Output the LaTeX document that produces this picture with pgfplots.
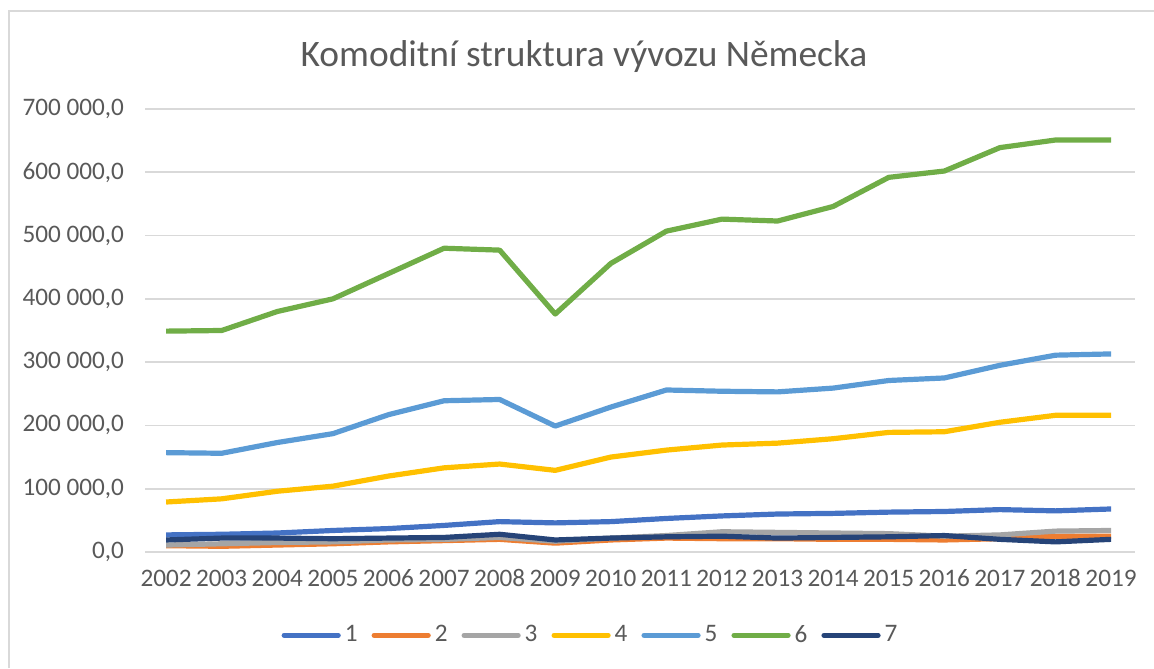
\documentclass[border=0pt]{standalone}
\usepackage{pgfplots}
\pgfplotsset{compat=1.18}
\usepackage{fontspec}
\setmainfont{Carlito}
\definecolor{txt}{HTML}{595959}
\definecolor{grd}{HTML}{D9D9D9}
\definecolor{c1}{HTML}{4472C4}
\definecolor{c2}{HTML}{ED7D31}
\definecolor{c3}{HTML}{A5A5A5}
\definecolor{c4}{HTML}{FFC000}
\definecolor{c5}{HTML}{5B9BD5}
\definecolor{c6}{HTML}{70AD47}
\definecolor{c7}{HTML}{264478}
\begin{document}
\begin{tikzpicture}
\path[use as bounding box] (0,0) rectangle (577pt,334pt);
\draw[grd, line width=1pt] (4.25pt,0) -- (4.25pt,328.5pt) -- (577pt,328.5pt);
\node[txt, font=\fontsize{18.7}{22}\selectfont] at (292pt,305.5pt) {Komoditní struktura vývozu Německa};
\begin{axis}[
  at={(72.5pt,58pt)}, anchor=south west,
  scale only axis, width=495pt, height=221.5pt,
  xmin=2001.62, xmax=2019.43,
  ymin=0, ymax=700000,
  xtick={2002,...,2019},
  ytick={0,100000,...,700000},
  scaled y ticks=false,
  xticklabel style={/pgf/number format/1000 sep={}, text height=8.5pt, text depth=0pt},
  yticklabel style={/pgf/number format/.cd, fixed, fixed zerofill, precision=1, use comma, 1000 sep={\ }},
  /pgf/number format/assume math mode=true,
  ticklabel style={font=\fontsize{12.6}{15}\selectfont, text=txt},
  major tick length=0pt,
  axis line style={draw=none},
  ymajorgrids, grid style={grd, line width=0.8pt},
  yticklabel shift=7pt, xticklabel shift=5pt,
  legend columns=7,
  legend style={at={(0.451,-0.188)}, anchor=center, draw=none, fill=none,
    font=\fontsize{12.6}{15}\selectfont, text=txt,
    /tikz/every even column/.append style={column sep=5pt}},
  legend cell align=left,
  legend image code/.code={\draw[#1, line width=2.6pt, line cap=round] (0pt,0pt) -- (27pt,0pt);},
  every axis plot/.append style={line width=2.6pt, line join=round, mark=none},
]
\draw[grd, line width=0.8pt] (axis cs:2001.62,0) -- (axis cs:2019.43,0);
\addplot[c1] coordinates {(2002,27000)(2003,28000)(2004,30000)(2005,34000)(2006,37000)(2007,42000)(2008,48000)(2009,46000)(2010,48000)(2011,53000)(2012,57000)(2013,60000)(2014,61000)(2015,63000)(2016,64000)(2017,67000)(2018,65000)(2019,68000)};
\addlegendentry{1}
\addplot[c2] coordinates {(2002,10000)(2003,9000)(2004,11000)(2005,13000)(2006,16000)(2007,18000)(2008,20000)(2009,14000)(2010,19000)(2011,22000)(2012,21000)(2013,21000)(2014,20000)(2015,20000)(2016,19000)(2017,21000)(2018,25000)(2019,25000)};
\addlegendentry{2}
\addplot[c3] coordinates {(2002,11000)(2003,13000)(2004,15000)(2005,16000)(2006,19000)(2007,20000)(2008,23000)(2009,17000)(2010,22000)(2011,26000)(2012,32000)(2013,31000)(2014,30000)(2015,29000)(2016,25000)(2017,27000)(2018,33000)(2019,34000)};
\addlegendentry{3}
\addplot[c4] coordinates {(2002,79000)(2003,84000)(2004,96000)(2005,104000)(2006,120000)(2007,133000)(2008,139000)(2009,129000)(2010,150000)(2011,161000)(2012,169000)(2013,172000)(2014,179000)(2015,189000)(2016,190000)(2017,205000)(2018,216000)(2019,216000)};
\addlegendentry{4}
\addplot[c5] coordinates {(2002,157000)(2003,156000)(2004,173000)(2005,187000)(2006,217000)(2007,239000)(2008,241000)(2009,199000)(2010,229000)(2011,256000)(2012,254000)(2013,253000)(2014,259000)(2015,271000)(2016,275000)(2017,295000)(2018,311000)(2019,313000)};
\addlegendentry{5}
\addplot[c6] coordinates {(2002,349000)(2003,350000)(2004,380000)(2005,400000)(2006,440000)(2007,480000)(2008,477000)(2009,376000)(2010,456000)(2011,507000)(2012,526000)(2013,523000)(2014,546000)(2015,592000)(2016,602000)(2017,639000)(2018,651000)(2019,651000)};
\addlegendentry{6}
\addplot[c7] coordinates {(2002,19000)(2003,22000)(2004,22000)(2005,21000)(2006,22000)(2007,23000)(2008,28000)(2009,19000)(2010,22000)(2011,24000)(2012,25000)(2013,22000)(2014,23000)(2015,24000)(2016,26000)(2017,20000)(2018,16000)(2019,20000)};
\addlegendentry{7}
\end{axis}
\end{tikzpicture}
\end{document}
